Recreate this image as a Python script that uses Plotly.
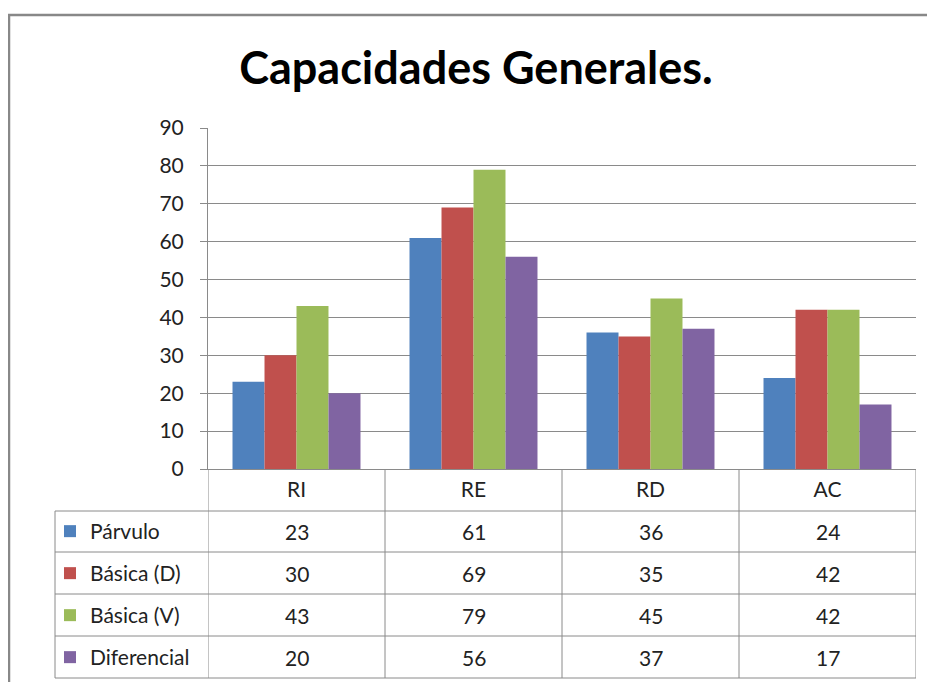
import plotly.graph_objects as go

W, H = 935, 682
OFF = 8  # page body margin shifts the figure by this much

# data
categorias = ["RI", "RE", "RD", "AC"]
series = ["Párvulo", "Básica (D)", "Básica (V)", "Diferencial"]
parvulo = [23, 61, 36, 24]
basica_d = [30, 69, 35, 42]
basica_v = [43, 79, 45, 42]
diferencial = [20, 56, 37, 17]
valores = [parvulo, basica_d, basica_v, diferencial]
colores = ["#4F81BD", "#C0504D", "#9BBB59", "#8064A2"]

FONT = "Lato"
LINE = "#8a8a8a"
TXT = "#222222"


def px(p):
    # screen column -> paper x
    return (p - OFF) / W


def py(p):
    # screen row -> paper y
    return 1 - (p - OFF) / H


# table geometry in screen pixels
row_edges = [469, 511, 552, 594, 636, 678]
table_left = 55
plot_left, plot_right = 208, 916

fig = go.Figure()

for nombre, vals, color in zip(series, valores, colores):
    fig.add_trace(go.Bar(
        x=categorias, y=vals, name=nombre, legendgroup=nombre,
        marker=dict(color=color, line=dict(width=0)),
    ))

shapes = []
# outer chart border
shapes.append(dict(type="rect", xref="paper", yref="paper",
                   x0=px(9), x1=1.05, y0=-0.05, y1=py(15),
                   line=dict(color="#888888", width=2.5)))
# table horizontal lines
for p in row_edges[1:]:
    shapes.append(dict(type="line", xref="paper", yref="paper",
                       x0=px(table_left), x1=px(plot_right), y0=py(p), y1=py(p),
                       line=dict(color=LINE, width=1)))
# column separators on the category scale
for k in range(len(categorias) + 1):
    shapes.append(dict(type="line", xref="x", yref="paper",
                       x0=k - 0.5, x1=k - 0.5, y0=py(row_edges[0]), y1=py(row_edges[-1]),
                       line=dict(color=LINE, width=1)))
# legend column left edge
shapes.append(dict(type="line", xref="paper", yref="paper",
                   x0=px(table_left), x1=px(table_left), y0=py(row_edges[1]), y1=py(row_edges[-1]),
                   line=dict(color=LINE, width=1)))

annotations = []
for i, vals in enumerate(valores):
    yc = (row_edges[i + 1] + row_edges[i + 2]) / 2
    for j, v in enumerate(vals):
        annotations.append(dict(x=categorias[j], xref="x", y=py(yc), yref="paper",
                                yanchor="middle", xanchor="center",
                                text=str(v), showarrow=False,
                                font=dict(family=FONT, size=21, color=TXT)))

fig.update_layout(
    width=W, height=H,
    margin=dict(l=0, r=0, t=0, b=0, autoexpand=False),
    paper_bgcolor="white", plot_bgcolor="white",
    title=dict(text="<b>Capacidades Generales.</b>", x=px(476), xanchor="center",
               y=py(68), yanchor="middle",
               font=dict(family=FONT, size=45, color="black")),
    barmode="group", bargap=0.277, bargroupgap=0,
    xaxis=dict(domain=[px(plot_left), px(plot_right)], range=[-0.5, 3.5],
               showline=True, linecolor=LINE, linewidth=1, ticks="",
               ticklabelstandoff=2,
               tickfont=dict(family=FONT, size=21, color=TXT),
               showgrid=False, fixedrange=True),
    yaxis=dict(domain=[py(469), py(128)], range=[0, 90], dtick=10,
               showgrid=True, gridcolor=LINE, gridwidth=1,
               showline=True, linecolor=LINE, linewidth=1,
               ticks="outside", ticklen=7, tickcolor=LINE,
               ticklabelstandoff=12, zeroline=False,
               tickfont=dict(family=FONT, size=21, color=TXT)),
    legend=dict(x=px(50), y=py(511), xanchor="left", yanchor="top",
                font=dict(family=FONT, size=21, color=TXT),
                tracegroupgap=11.7, bgcolor="rgba(0,0,0,0)", itemwidth=30),
    shapes=shapes,
    annotations=annotations,
)

fig.write_html("out.html")
